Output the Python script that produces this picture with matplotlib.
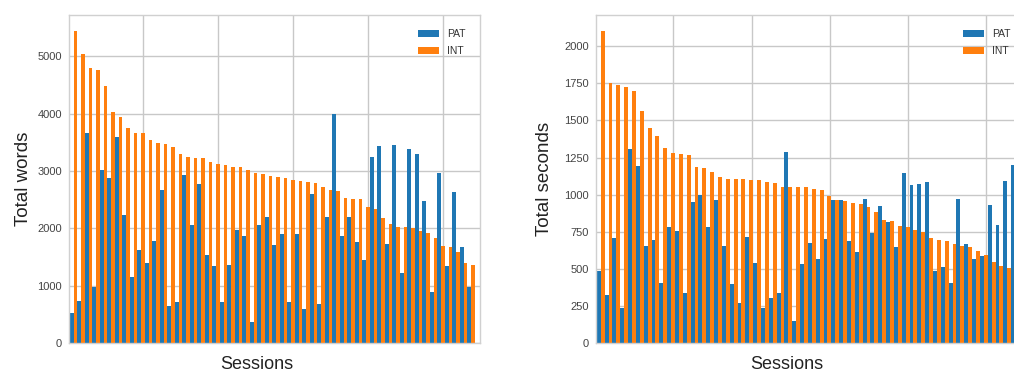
import matplotlib
matplotlib.use("Agg")
import matplotlib.pyplot as plt
import numpy as np

plt.rcParams["font.family"] = ["Liberation Sans", "DejaVu Sans"]

# words per session (sorted by interviewer words)
words_pat = [521, 736, 3662, 985, 3013, 2885, 3586, 2236, 1159, 1622,
             1390, 1773, 2671, 649, 707, 2937, 2051, 2769, 1541, 1338,
             718, 1367, 1976, 1866, 365, 2051, 2190, 1715, 1895, 707,
             1895, 585, 2596, 678, 2190, 3986, 1866, 2190, 1756, 1448,
             3244, 3430, 1727, 3457, 1228, 3387, 3300, 2478, 886, 2965,
             1349, 2635, 1679, 984]
words_int = [5446, 5035, 4786, 4757, 4479, 4032, 3940, 3754, 3656, 3656,
             3534, 3488, 3470, 3412, 3302, 3239, 3227, 3227, 3164, 3117,
             3100, 3071, 3071, 3024, 2966, 2949, 2920, 2897, 2885, 2839,
             2822, 2804, 2781, 2717, 2665, 2654, 2532, 2509, 2503, 2364,
             2329, 2171, 2075, 2018, 2015, 2000, 1955, 1911, 1830, 1697,
             1679, 1581, 1390, 1361]

# seconds per session (sorted by interviewer seconds)
secs_pat = [486, 325, 708, 235, 1310, 1194, 654, 694, 403, 779,
            755, 336, 952, 994, 779, 963, 656, 396, 269, 717,
            540, 236, 302, 334, 1288, 149, 529, 676, 569, 700,
            965, 965, 684, 610, 969, 744, 926, 814, 645, 1143,
            1065, 1073, 1083, 487, 509, 405, 970, 669, 569, 587,
            932, 792, 1092, 1199]
secs_int = [2105, 1751, 1736, 1727, 1695, 1563, 1451, 1397, 1312, 1283,
            1272, 1268, 1187, 1180, 1151, 1120, 1106, 1106, 1104, 1101,
            1097, 1088, 1081, 1054, 1054, 1054, 1050, 1039, 1032, 988,
            965, 954, 942, 937, 915, 886, 827, 823, 791, 785,
            760, 747, 709, 694, 687, 665, 656, 649, 620, 592,
            543, 516, 507, 495]

W, H = 1014, 374
fig = plt.figure(figsize=(W / 100, H / 100), dpi=100)

panels = [
    (words_pat, words_int, "Total words", [69, 411], np.arange(0, 6000, 1000), 0.456, 4),
    (secs_pat, secs_int, "Total seconds", [596, 428.5], np.arange(0, 2250, 250), 0.446, 8),
]

for pat, intv, ylabel, (left, width), yticks, xlab_pos, ypad in panels:
    ax = fig.add_axes([left / W, 31 / H, width / W, 328 / H])
    x = np.arange(1, len(pat) + 1)
    ax.bar(x - 0.55, pat, 0.5, color="#1f77b4", label="PAT", zorder=2)
    ax.bar(x - 0.05, intv, 0.5, color="#ff7f0e", label="INT", zorder=2)

    ax.set_xlim(0.1, 54.9)
    ax.set_xticks([10, 20, 30, 40, 50])
    ax.set_yticks(yticks)
    ax.tick_params(axis="both", length=0, labelsize=8, labelcolor="#444444")
    ax.tick_params(axis="x", labelbottom=False)
    ax.tick_params(axis="y", pad=5)
    ax.grid(True, color="#c8c8c8", linewidth=1, zorder=0)
    ax.set_axisbelow(True)
    for s in ax.spines.values():
        s.set_color("#d0d0d0")
        s.set_linewidth(1)

    ax.set_ylabel(ylabel, fontsize=13.5, color="#222222", labelpad=ypad)
    ax.set_xlabel("Sessions", fontsize=13, color="#222222")
    ax.xaxis.set_label_coords(xlab_pos, -13 / 328, transform=ax.transAxes)
    ax.legend(loc="upper right", frameon=False, fontsize=7.5, labelspacing=0.7,
              borderaxespad=0.95, labelcolor="#333333")

fig.savefig("out.png", dpi=100)
